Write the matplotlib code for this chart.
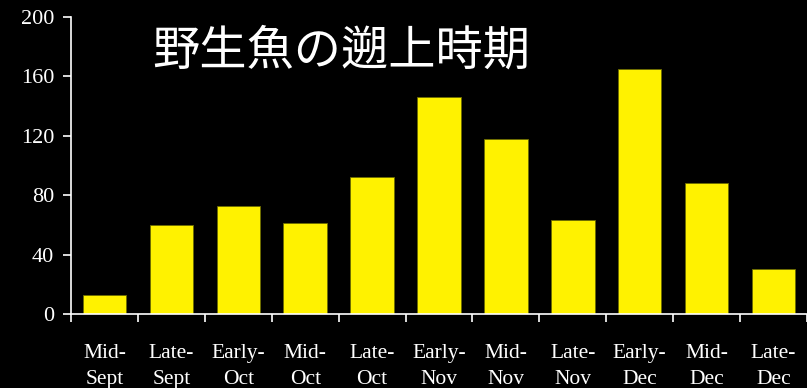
import numpy as np
import matplotlib.pyplot as plt
from matplotlib.ticker import FixedLocator

periods = ['Mid-\nSept', 'Late-\nSept', 'Early-\nOct', 'Mid-\nOct', 'Late-\nOct', 'Early-\nNov',
           'Mid-\nNov', 'Late-\nNov', 'Early-\nDec', 'Mid-\nDec', 'Late-\nDec']
counts = [13, 60, 73, 61, 92, 146, 118, 63, 165, 88, 30]
yticks = [0, 40, 80, 120, 160, 200]
title = '野生魚の遡上時期'

fig = plt.figure(figsize=(8.07, 3.88), dpi=100, facecolor='black')
ax = fig.add_axes([0.088, 0.191, 0.912, 0.765], facecolor='black')

x = np.arange(len(periods))
ax.bar(x, counts, width=0.65, color='#FFF200', edgecolor='#6b6b00', linewidth=0.6)

ax.set_xlim(-0.5, len(periods) - 0.5)
ax.set_ylim(0, 200)
ax.set_yticks(yticks)
ax.set_xticks(x)
ax.set_xticklabels(periods, linespacing=1.5)
ax.xaxis.set_minor_locator(FixedLocator(np.arange(len(periods) + 1) - 0.5))

for s in ['top', 'right']:
    ax.spines[s].set_visible(False)
for s in ['left', 'bottom']:
    ax.spines[s].set_color('white')
    ax.spines[s].set_linewidth(1.2)

ax.tick_params(axis='x', which='major', length=0, pad=22, colors='white', labelsize=15.5)
ax.tick_params(axis='x', which='minor', length=6, width=1.2, color='white', direction='out')
ax.tick_params(axis='y', length=6, width=1.2, colors='white', labelsize=16, pad=6)
for lab in ax.get_xticklabels() + ax.get_yticklabels():
    lab.set_family('Liberation Serif')

ax.text(0.11, 0.885, title, transform=ax.transAxes, color='white', fontsize=34,
        family=['Noto Sans CJK JP', 'DejaVu Sans'], va='center', ha='left')

fig.savefig('out.png', dpi=100, facecolor='black')
